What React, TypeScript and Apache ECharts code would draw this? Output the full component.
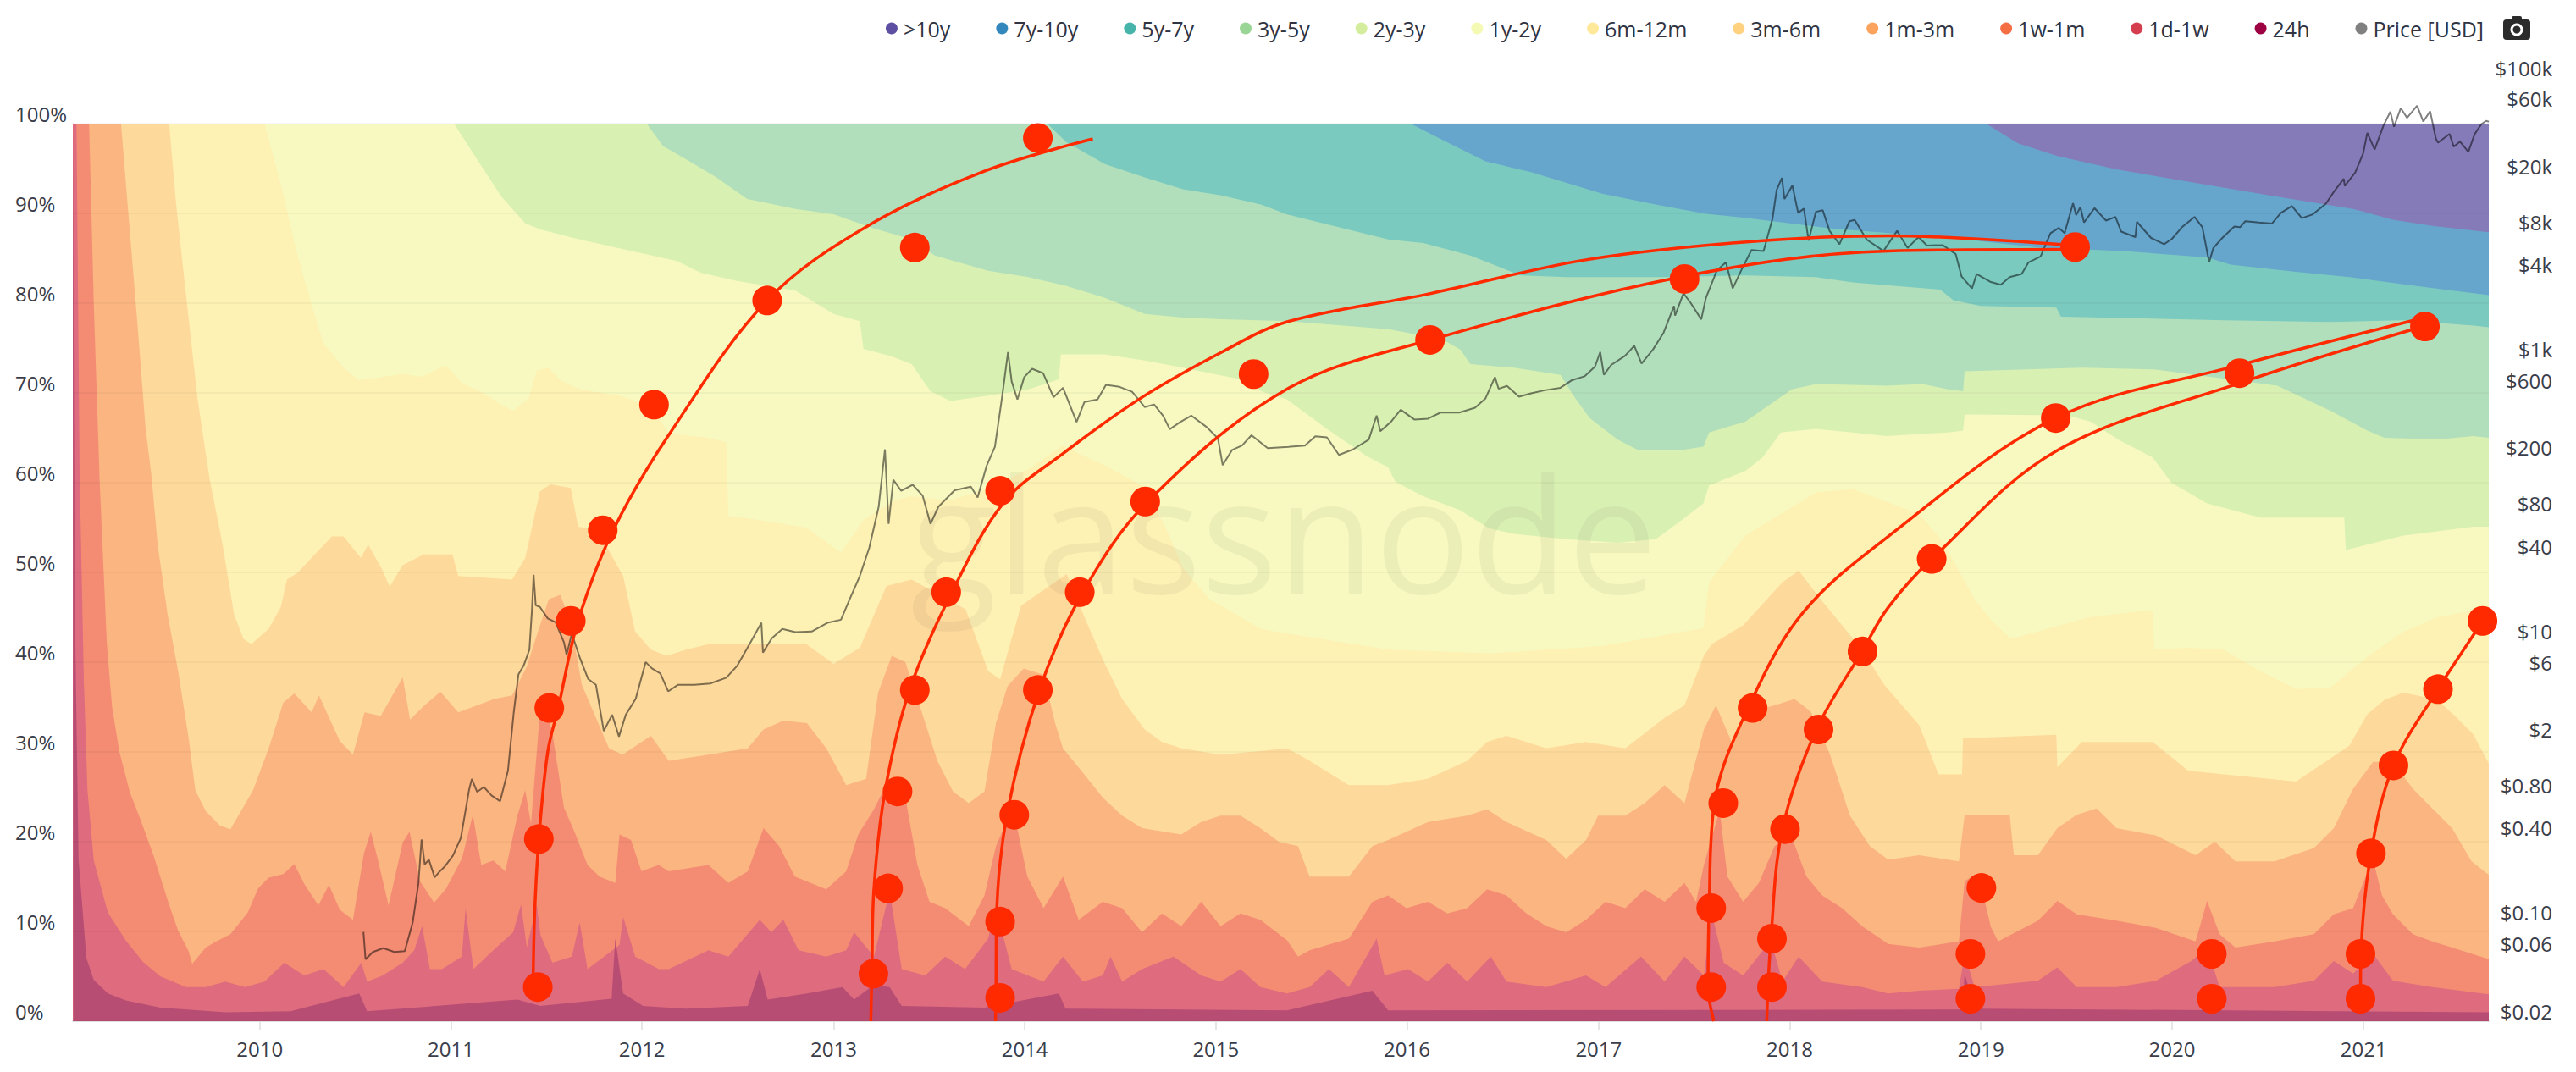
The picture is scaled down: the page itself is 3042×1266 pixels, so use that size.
import { useEffect, useRef } from 'react'
import * as echarts from 'echarts'

type Pt = [string, number]

// 图例 / 波段
const bandNames = ['>10y', '7y-10y', '5y-7y', '3y-5y', '2y-3y', '1y-2y', '6m-12m', '3m-6m', '1m-3m', '1w-1m', '1d-1w', '24h']
const bandColors = ['#5e4fa2', '#3288bd', '#47b4a9', '#99d594', '#d3ed9c', '#f4fab4', '#fee99a', '#fed27e', '#fca35e', '#f46d43', '#d53e4f', '#9e0142']
const bandFills = ['#867bb9', '#66a5cc', '#7acac0', '#b2dfbb', '#d9f0b3', '#f7f9c0', '#fdf1b4', '#fdd99b', '#fbb581', '#f48c73', '#de6b7e', '#b84d74']
const priceName = 'Price [USD]'

// top edge of each band (% of supply younger than the band's upper age)
const edgeAll: Pt[] = [['2009-01-09', 100], ['2021-08-28', 100]]
const edge10y: Pt[] = [['2009-01-09', 100], ['2019-01-11', 100], ['2019-03-13', 97.8], ['2019-05-27', 96.4], ['2019-09-17', 94.9], ['2020-02-15', 93.4], ['2020-07-15', 91.9], ['2020-09-28', 91.2], ['2020-12-12', 90.5], ['2021-02-26', 89.3], ['2021-05-12', 88.6], ['2021-08-28', 87.9]]
const edge7y: Pt[] = [['2009-01-09', 100], ['2016-01-08', 100], ['2016-03-08', 98.2], ['2016-05-30', 95.8], ['2016-08-25', 94.6], ['2017-01-08', 92.2], ['2017-04-20', 91.0], ['2017-07-20', 90.0], ['2017-10-08', 89.5], ['2018-03-25', 88.3], ['2018-10-30', 87.3], ['2019-04-20', 86.2], ['2019-10-01', 85.8], ['2020-03-08', 85.1], ['2020-04-22', 84.3], ['2020-08-25', 83.5], ['2020-12-05', 82.9], ['2021-03-18', 82.1], ['2021-06-05', 81.5], ['2021-08-28', 80.9]]
const edge5y: Pt[] = [['2009-01-09', 100], ['2014-02-13', 100], ['2014-03-22', 97.9], ['2014-06-03', 95.5], ['2014-08-18', 94.0], ['2014-10-30', 92.7], ['2015-01-11', 92.0], ['2015-03-28', 91.0], ['2015-05-16', 89.9], ['2015-11-26', 87.1], ['2016-02-01', 86.7], ['2016-05-01', 85.3], ['2016-08-05', 83.1], ['2016-11-01', 82.9], ['2017-05-25', 82.9], ['2017-10-08', 83.1], ['2018-02-20', 82.9], ['2018-05-01', 82.3], ['2018-10-15', 81.5], ['2018-11-10', 80.3], ['2019-01-01', 79.7], ['2019-05-25', 79.5], ['2019-06-03', 78.5], ['2020-04-10', 78.1], ['2020-10-30', 77.9], ['2021-03-18', 78.1], ['2021-07-30', 77.5], ['2021-08-28', 77.3]]
const edge3y: Pt[] = [['2009-01-09', 100], ['2012-01-10', 100], ['2012-02-10', 97.5], ['2012-03-08', 96.6], ['2012-04-15', 95.3], ['2012-05-22', 94.0], ['2012-07-20', 91.6], ['2012-10-20', 90.5], ['2013-01-01', 89.9], ['2013-03-15', 88.4], ['2013-05-30', 87.1], ['2013-07-13', 85.3], ['2013-10-23', 83.6], ['2014-01-08', 82.9], ['2014-03-22', 81.9], ['2014-06-03', 80.6], ['2014-08-18', 78.8], ['2014-10-30', 78.4], ['2015-01-11', 78.2], ['2015-05-16', 78.0], ['2015-11-26', 77.1], ['2016-03-08', 76.0], ['2016-04-12', 74.8], ['2016-05-01', 73.2], ['2016-07-23', 72.8], ['2016-10-20', 72.0], ['2016-11-15', 69.6], ['2016-12-15', 67.2], ['2017-02-06', 64.8], ['2017-03-18', 63.6], ['2017-06-06', 63.6], ['2017-07-20', 64.0], ['2017-07-31', 65.6], ['2017-10-08', 66.8], ['2018-01-05', 70.4], ['2018-02-20', 71.0], ['2018-07-05', 70.8], ['2018-09-12', 71.0], ['2018-10-30', 70.4], ['2018-11-28', 70.2], ['2018-12-01', 72.4], ['2019-07-13', 72.8], ['2019-12-01', 72.6], ['2020-07-20', 70.8], ['2020-08-25', 69.8], ['2020-10-30', 68.0], ['2021-01-08', 65.8], ['2021-02-10', 65.0], ['2021-05-22', 64.8], ['2021-07-30', 65.2], ['2021-08-28', 65.0]]
const edge2y: Pt[] = [['2009-01-09', 100], ['2011-01-07', 100], ['2011-02-28', 95.3], ['2011-04-07', 91.9], ['2011-05-23', 88.9], ['2011-06-21', 88.2], ['2011-09-04', 87.1], ['2011-11-19', 86.1], ['2012-03-08', 84.7], ['2012-04-22', 83.4], ['2012-06-28', 82.5], ['2012-10-20', 81.4], ['2013-01-01', 78.8], ['2013-02-20', 78.0], ['2013-02-27', 74.9], ['2013-04-20', 74.1], ['2013-05-30', 73.2], ['2013-07-05', 70.2], ['2013-08-12', 69.1], ['2013-10-23', 69.7], ['2014-01-08', 70.4], ['2014-03-07', 71.5], ['2014-03-11', 74.3], ['2014-06-03', 74.3], ['2014-08-18', 73.6], ['2014-10-30', 72.8], ['2015-02-17', 71.5], ['2015-03-28', 70.2], ['2015-05-16', 69.3], ['2015-08-01', 66.0], ['2015-10-15', 63.0], ['2015-11-26', 61.7], ['2015-12-10', 60.1], ['2016-02-01', 58.5], ['2016-04-12', 56.9], ['2016-06-06', 54.9], ['2016-07-23', 54.3], ['2016-11-01', 53.7], ['2017-02-06', 53.3], ['2017-04-20', 53.7], ['2017-06-06', 55.7], ['2017-07-20', 57.7], ['2017-07-31', 59.7], ['2017-10-08', 61.3], ['2017-11-10', 62.8], ['2017-12-15', 65.6], ['2018-02-20', 66.0], ['2018-04-30', 65.6], ['2018-07-05', 65.2], ['2018-10-30', 65.6], ['2018-11-28', 65.8], ['2018-12-01', 67.6], ['2019-06-15', 67.5], ['2019-07-30', 66.8], ['2019-09-20', 64.8], ['2019-11-25', 62.8], ['2019-12-31', 60.0], ['2020-03-08', 57.7], ['2020-06-18', 56.1], ['2020-11-25', 56.1], ['2020-11-28', 52.5], ['2021-03-18', 54.1], ['2021-07-30', 55.1], ['2021-08-28', 55.1]]
const edge1y: Pt[] = [['2009-01-09', 100], ['2010-01-10', 100], ['2010-02-10', 93.3], ['2010-03-12', 85.8], ['2010-04-11', 79.6], ['2010-05-03', 75.5], ['2010-06-10', 72.8], ['2010-07-10', 71.4], ['2010-08-24', 71.8], ['2010-10-01', 72.1], ['2010-11-07', 71.8], ['2010-12-22', 73.1], ['2011-01-22', 71.1], ['2011-02-28', 70.1], ['2011-04-07', 68.7], ['2011-04-30', 68.0], ['2011-05-30', 69.4], ['2011-06-14', 72.5], ['2011-07-07', 72.8], ['2011-07-29', 71.4], ['2011-09-04', 70.4], ['2011-11-19', 69.7], ['2012-01-18', 68.5], ['2012-02-21', 65.5], ['2012-05-07', 65.0], ['2012-06-10', 64.5], ['2012-06-14', 56.3], ['2012-08-04', 55.9], ['2012-11-10', 55.0], ['2013-01-15', 52.2], ['2013-02-28', 55.9], ['2013-04-27', 58.0], ['2013-05-30', 58.5], ['2013-08-10', 58.0], ['2013-11-01', 59.5], ['2014-01-08', 61.5], ['2014-03-14', 64.1], ['2014-06-03', 61.9], ['2014-08-18', 59.5], ['2014-10-01', 54.5], ['2014-10-30', 50.5], ['2014-12-20', 47.0], ['2015-01-11', 46.3], ['2015-03-28', 43.7], ['2015-05-16', 43.2], ['2015-11-26', 41.4], ['2016-06-15', 41.0], ['2017-01-08', 41.8], ['2017-07-20', 43.8], ['2017-07-31', 48.9], ['2017-10-08', 54.1], ['2018-02-20', 58.9], ['2018-05-01', 59.3], ['2018-09-05', 56.5], ['2018-10-20', 53.5], ['2018-12-20', 47.0], ['2019-01-22', 44.6], ['2019-02-28', 42.6], ['2019-07-26', 45.0], ['2019-11-25', 45.8], ['2019-11-28', 41.4], ['2020-02-01', 41.6], ['2020-04-08', 41.4], ['2020-06-18', 39.0], ['2020-08-25', 37.0], ['2020-10-30', 37.2], ['2021-01-08', 40.6], ['2021-03-18', 43.4], ['2021-05-22', 45.0], ['2021-08-28', 46.1]]
const edge6m: Pt[] = [['2009-01-09', 100], ['2009-07-12', 100], ['2009-07-25', 91.2], ['2009-08-13', 81.0], ['2009-09-04', 69.4], ['2009-09-27', 60.5], ['2009-10-22', 53.1], ['2009-11-13', 45.3], ['2009-12-01', 42.6], ['2009-12-16', 42.0], ['2010-01-18', 43.7], ['2010-02-10', 46.1], ['2010-02-22', 49.2], ['2010-03-15', 50.0], ['2010-04-16', 52.0], ['2010-05-19', 54.0], ['2010-06-10', 54.0], ['2010-07-13', 51.6], ['2010-07-27', 53.1], ['2010-08-22', 50.4], ['2010-09-06', 48.4], ['2010-10-01', 50.8], ['2010-11-10', 52.0], ['2011-01-04', 52.0], ['2011-01-15', 49.6], ['2011-04-28', 49.2], ['2011-05-23', 51.6], ['2011-06-20', 59.0], ['2011-07-10', 59.8], ['2011-08-18', 59.4], ['2011-09-01', 55.1], ['2011-10-12', 54.7], ['2011-10-23', 53.1], ['2011-11-26', 49.6], ['2011-12-19', 43.4], ['2012-01-18', 41.4], ['2012-02-17', 40.7], ['2012-03-25', 41.4], ['2012-05-07', 42.0], ['2012-07-21', 42.0], ['2012-11-10', 42.0], ['2013-01-01', 39.8], ['2013-02-20', 41.6], ['2013-04-12', 48.5], ['2013-05-30', 49.2], ['2013-09-10', 45.9], ['2013-10-23', 39.0], ['2013-11-15', 38.1], ['2013-12-25', 46.3], ['2014-03-22', 49.8], ['2014-04-28', 44.6], ['2014-06-03', 39.8], ['2014-07-06', 35.9], ['2014-08-18', 32.5], ['2014-09-20', 31.1], ['2014-10-27', 30.4], ['2015-01-10', 29.7], ['2015-03-27', 30.1], ['2015-05-17', 30.4], ['2015-06-29', 29.0], ['2015-09-12', 26.3], ['2015-11-26', 26.3], ['2016-02-10', 27.0], ['2016-04-25', 29.0], ['2016-06-02', 31.1], ['2016-07-09', 31.8], ['2016-09-23', 30.4], ['2016-12-08', 31.1], ['2017-02-21', 30.4], ['2017-05-07', 33.8], ['2017-06-14', 35.2], ['2017-07-21', 40.7], ['2017-08-05', 42.0], ['2017-10-04', 44.1], ['2017-12-18', 48.9], ['2018-01-18', 50.2], ['2018-03-04', 46.8], ['2018-05-19', 41.4], ['2018-06-30', 37.5], ['2018-09-05', 33.0], ['2018-10-12', 27.5], ['2018-11-26', 27.5], ['2018-11-28', 31.5], ['2019-05-25', 31.9], ['2019-05-27', 28.3], ['2019-07-13', 31.1], ['2019-11-25', 31.1], ['2020-02-01', 27.9], ['2020-08-25', 26.7], ['2020-12-05', 30.7], ['2021-01-08', 34.2], ['2021-02-10', 35.8], ['2021-03-18', 36.6], ['2021-05-22', 35.8], ['2021-06-28', 33.8], ['2021-07-30', 31.9], ['2021-08-28', 28.7]]
const edge3m: Pt[] = [['2009-01-09', 100], ['2009-04-11', 100], ['2009-04-25', 90.0], ['2009-05-12', 78.0], ['2009-05-28', 66.0], ['2009-06-08', 60.9], ['2009-06-20', 53.1], ['2009-07-09', 45.3], ['2009-07-29', 39.0], ['2009-08-18', 31.6], ['2009-08-31', 25.7], ['2009-09-20', 23.4], ['2009-10-17', 21.8], ['2009-11-06', 21.4], ['2009-12-19', 25.7], ['2010-01-18', 30.4], ['2010-02-15', 35.5], ['2010-03-08', 36.5], ['2010-04-10', 34.4], ['2010-04-24', 36.3], ['2010-06-03', 31.2], ['2010-06-28', 29.7], ['2010-07-20', 34.4], ['2010-08-20', 34.0], ['2010-10-01', 38.3], ['2010-10-15', 33.6], ['2010-11-10', 35.1], ['2010-12-12', 36.7], ['2011-01-15', 34.4], ['2011-03-25', 35.9], ['2011-04-28', 36.3], ['2011-05-26', 39.5], ['2011-06-14', 43.0], ['2011-07-07', 47.0], ['2011-07-29', 47.5], ['2011-08-18', 44.5], ['2011-09-08', 37.5], ['2011-10-30', 30.4], ['2011-11-25', 29.7], ['2012-01-18', 31.8], ['2012-02-21', 29.0], ['2012-05-07', 29.7], ['2012-07-21', 30.4], ['2012-08-20', 32.5], ['2012-09-27', 33.5], ['2012-11-11', 33.2], ['2012-12-18', 30.4], ['2013-01-25', 26.3], ['2013-03-04', 27.0], ['2013-03-27', 36.6], ['2013-04-22', 40.7], ['2013-05-18', 40.0], ['2013-06-18', 34.5], ['2013-07-18', 29.0], ['2013-08-17', 25.6], ['2013-09-16', 24.3], ['2013-10-16', 25.6], ['2013-11-07', 33.2], ['2013-11-29', 37.3], ['2013-12-30', 39.3], ['2014-02-06', 38.6], ['2014-02-28', 33.2], ['2014-03-15', 30.4], ['2014-04-22', 27.7], ['2014-05-30', 24.9], ['2014-07-06', 22.9], ['2014-08-13', 21.5], ['2014-10-27', 20.8], ['2014-12-04', 22.2], ['2015-01-10', 22.9], ['2015-02-17', 22.9], ['2015-03-27', 21.5], ['2015-05-01', 20.0], ['2015-06-07', 19.5], ['2015-06-29', 16.1], ['2015-09-12', 16.1], ['2015-10-27', 19.5], ['2015-11-26', 20.2], ['2016-02-10', 22.2], ['2016-04-25', 22.9], ['2016-06-02', 23.6], ['2016-07-09', 22.2], ['2016-09-23', 20.2], ['2016-10-31', 18.1], ['2016-12-08', 20.2], ['2016-12-31', 22.9], ['2017-02-21', 22.9], ['2017-03-30', 24.3], ['2017-05-07', 26.3], ['2017-06-14', 24.3], ['2017-07-21', 32.5], ['2017-08-13', 35.2], ['2017-09-12', 31.1], ['2017-10-19', 34.5], ['2017-12-03', 35.2], ['2018-01-10', 35.9], ['2018-02-10', 34.5], ['2018-03-19', 29.7], ['2018-04-26', 22.9], ['2018-06-03', 19.5], ['2018-07-08', 18.0], ['2018-09-05', 18.5], ['2018-11-20', 17.8], ['2018-12-01', 23.0], ['2019-02-25', 23.0], ['2019-03-05', 18.5], ['2019-04-20', 18.5], ['2019-05-27', 21.5], ['2019-07-03', 23.0], ['2019-08-10', 23.7], ['2019-09-17', 21.5], ['2019-12-01', 20.7], ['2020-02-15', 18.5], ['2020-03-23', 20.0], ['2020-05-01', 17.8], ['2020-07-15', 17.8], ['2020-09-28', 19.3], ['2020-11-05', 21.5], ['2020-12-12', 25.9], ['2021-01-19', 28.9], ['2021-02-26', 28.9], ['2021-04-05', 25.9], ['2021-05-12', 23.7], ['2021-06-19', 21.5], ['2021-07-26', 17.8], ['2021-08-28', 16.3]]
const edge1m: Pt[] = [['2009-01-09', 100], ['2009-02-09', 100], ['2009-02-18', 80.0], ['2009-03-01', 60.5], ['2009-03-15', 42.0], ['2009-03-25', 35.0], ['2009-04-08', 30.0], ['2009-04-28', 25.5], ['2009-05-18', 22.5], ['2009-06-12', 18.5], ['2009-07-09', 13.5], ['2009-07-29', 10.1], ['2009-08-18', 7.8], ['2009-08-25', 6.4], ['2009-09-20', 8.2], ['2009-10-10', 8.9], ['2009-11-06', 9.7], ['2009-12-09', 12.1], ['2009-12-29', 14.8], ['2010-01-18', 16.0], ['2010-02-15', 16.4], ['2010-03-08', 17.5], ['2010-03-28', 15.2], ['2010-04-23', 12.9], ['2010-05-13', 15.2], ['2010-06-03', 12.4], ['2010-06-28', 11.3], ['2010-07-19', 18.7], ['2010-08-01', 21.1], ['2010-08-15', 17.9], ['2010-09-04', 12.9], ['2010-10-01', 19.9], ['2010-10-14', 21.1], ['2010-11-03', 15.6], ['2010-11-30', 13.2], ['2010-12-22', 14.7], ['2011-01-22', 18.1], ['2011-02-12', 23.0], ['2011-02-28', 17.4], ['2011-03-23', 17.9], ['2011-04-15', 16.7], ['2011-05-08', 22.9], ['2011-05-23', 25.7], ['2011-06-03', 22.0], ['2011-06-19', 33.6], ['2011-06-28', 35.9], ['2011-07-14', 32.0], ['2011-08-05', 23.8], ['2011-08-25', 21.1], ['2011-09-19', 17.4], ['2011-10-12', 16.1], ['2011-11-11', 15.4], ['2011-11-19', 20.8], ['2011-12-11', 20.2], ['2011-12-31', 16.7], ['2012-02-02', 17.4], ['2012-02-21', 16.7], ['2012-05-07', 17.4], ['2012-06-14', 15.4], ['2012-07-21', 16.7], ['2012-08-20', 21.5], ['2012-09-19', 19.5], ['2012-10-19', 16.1], ['2012-11-18', 15.4], ['2012-12-18', 14.7], ['2013-01-25', 16.7], ['2013-02-17', 20.8], ['2013-03-19', 23.6], ['2013-04-11', 26.3], ['2013-04-30', 27.0], ['2013-05-18', 24.9], ['2013-06-10', 17.4], ['2013-07-03', 13.3], ['2013-08-02', 12.6], ['2013-09-16', 10.6], ['2013-10-16', 14.0], ['2013-11-07', 19.5], ['2013-11-22', 21.5], ['2013-12-14', 22.5], ['2014-01-06', 16.1], ['2014-02-06', 12.6], ['2014-03-15', 16.1], ['2014-04-14', 11.3], ['2014-05-30', 13.3], ['2014-07-06', 12.6], ['2014-08-13', 9.9], ['2014-09-20', 12.0], ['2014-10-27', 10.6], ['2014-12-04', 13.3], ['2015-01-10', 10.6], ['2015-02-17', 12.0], ['2015-03-27', 11.3], ['2015-05-17', 9.0], ['2015-06-07', 7.2], ['2015-06-29', 7.9], ['2015-09-12', 9.2], ['2015-10-27', 13.3], ['2015-11-26', 14.0], ['2015-12-31', 12.6], ['2016-02-10', 13.3], ['2016-03-18', 12.0], ['2016-04-25', 12.6], ['2016-06-02', 14.7], ['2016-07-09', 14.0], ['2016-08-16', 12.0], ['2016-09-23', 10.6], ['2016-10-31', 9.9], ['2016-12-08', 11.3], ['2017-01-14', 13.3], ['2017-02-21', 12.6], ['2017-03-30', 14.7], ['2017-05-07', 13.3], ['2017-06-14', 15.4], ['2017-07-06', 13.3], ['2017-07-21', 17.4], ['2017-08-20', 23.5], ['2017-09-04', 16.1], ['2017-10-04', 13.3], ['2017-11-03', 15.4], ['2017-12-03', 19.5], ['2018-01-03', 20.8], ['2018-02-02', 16.1], ['2018-03-04', 14.0], ['2018-04-11', 12.6], ['2018-05-19', 10.6], ['2018-07-08', 8.6], ['2018-09-05', 8.2], ['2018-11-20', 8.9], ['2018-12-01', 15.6], ['2018-12-20', 16.3], ['2019-01-04', 14.5], ['2019-01-20', 10.5], ['2019-02-03', 8.9], ['2019-04-20', 11.2], ['2019-05-27', 13.4], ['2019-07-03', 11.9], ['2019-09-17', 11.2], ['2019-12-01', 10.4], ['2020-02-15', 8.9], ['2020-03-08', 13.4], ['2020-04-01', 9.7], ['2020-05-01', 8.2], ['2020-07-15', 8.9], ['2020-09-28', 9.7], ['2020-11-05', 11.9], ['2020-12-12', 12.6], ['2021-01-11', 17.0], ['2021-01-19', 18.0], ['2021-02-05', 14.0], ['2021-02-26', 11.9], ['2021-04-05', 9.7], ['2021-05-12', 8.9], ['2021-06-19', 8.2], ['2021-08-28', 6.9]]
const edge1w: Pt[] = [['2009-01-09', 100], ['2009-01-16', 100], ['2009-01-22', 60.9], ['2009-01-30', 38.0], ['2009-02-06', 25.7], ['2009-02-18', 17.9], ['2009-03-17', 12.1], ['2009-04-20', 9.0], ['2009-05-23', 6.6], ['2009-06-25', 5.0], ['2009-08-13', 3.8], ['2009-09-20', 3.8], ['2009-10-27', 4.4], ['2009-12-04', 3.8], ['2010-01-10', 4.4], ['2010-02-17', 6.5], ['2010-03-27', 5.1], ['2010-05-03', 5.8], ['2010-06-10', 3.8], ['2010-07-14', 6.5], ['2010-07-25', 4.4], ['2010-08-24', 5.1], ['2010-10-01', 6.5], ['2010-10-23', 7.9], ['2010-11-07', 10.6], ['2010-11-22', 5.8], ['2010-12-15', 5.8], ['2011-01-22', 7.2], ['2011-01-29', 12.6], ['2011-02-13', 5.8], ['2011-03-23', 7.9], ['2011-04-30', 9.9], ['2011-05-15', 13.0], ['2011-05-26', 8.2], ['2011-06-14', 13.0], ['2011-06-21', 9.6], ['2011-07-14', 6.5], ['2011-08-20', 7.2], ['2011-09-04', 11.0], ['2011-09-19', 5.8], ['2011-11-19', 8.5], ['2011-11-26', 11.6], ['2011-12-19', 7.2], ['2012-02-02', 5.8], ['2012-02-21', 5.8], ['2012-05-07', 7.9], ['2012-06-14', 7.2], ['2012-08-13', 11.3], ['2012-09-04', 9.9], ['2012-09-27', 11.3], ['2012-10-26', 7.9], ['2012-12-18', 7.2], ['2013-01-25', 7.9], ['2013-02-09', 9.9], ['2013-03-19', 7.2], ['2013-04-18', 14.5], ['2013-05-11', 5.8], ['2013-06-25', 5.1], ['2013-08-02', 7.2], ['2013-09-09', 5.8], ['2013-10-23', 9.2], ['2013-11-07', 12.6], ['2013-12-07', 5.8], ['2014-02-06', 4.4], ['2014-03-15', 7.2], ['2014-04-22', 4.4], ['2014-05-30', 5.1], ['2014-06-14', 7.2], ['2014-07-06', 4.4], ['2014-08-13', 5.8], ['2014-10-12', 7.2], ['2014-12-04', 5.1], ['2015-01-10', 4.4], ['2015-02-17', 5.8], ['2015-03-27', 3.8], ['2015-05-17', 3.1], ['2015-06-29', 3.8], ['2015-08-05', 5.8], ['2015-09-12', 3.8], ['2015-11-04', 9.2], ['2015-11-19', 5.1], ['2016-01-03', 5.8], ['2016-02-10', 4.4], ['2016-03-18', 6.5], ['2016-04-25', 4.4], ['2016-06-09', 7.2], ['2016-07-09', 4.4], ['2016-09-23', 3.8], ['2016-12-08', 5.1], ['2017-01-14', 3.8], ['2017-03-23', 7.2], ['2017-05-07', 4.4], ['2017-06-14', 7.2], ['2017-07-21', 5.1], ['2017-08-05', 12.0], ['2017-08-28', 6.5], ['2017-10-04', 5.1], ['2017-11-26', 9.0], ['2017-12-18', 4.4], ['2018-01-18', 7.2], ['2018-03-04', 4.4], ['2018-05-19', 3.8], ['2018-07-08', 3.1], ['2018-09-05', 3.4], ['2018-11-20', 3.6], ['2018-12-01', 7.5], ['2018-12-20', 3.8], ['2019-04-20', 4.5], ['2019-05-27', 6.0], ['2019-07-03', 3.8], ['2019-09-17', 3.8], ['2019-12-01', 4.5], ['2020-02-07', 6.7], ['2020-03-08', 8.2], ['2020-04-01', 3.8], ['2020-07-15', 3.8], ['2020-09-28', 4.5], ['2020-11-05', 6.7], ['2020-12-12', 5.3], ['2021-01-19', 7.5], ['2021-02-26', 4.5], ['2021-05-12', 3.8], ['2021-08-28', 3.0]]
const edge24h: Pt[] = [['2009-01-09', 100], ['2009-01-10', 100], ['2009-01-13', 45.0], ['2009-01-20', 18.0], ['2009-02-04', 7.0], ['2009-02-18', 4.6], ['2009-03-17', 3.1], ['2009-04-20', 2.3], ['2009-06-25', 1.5], ['2009-10-27', 1.0], ['2010-03-01', 1.1], ['2010-07-10', 3.1], ['2010-07-25', 1.1], ['2011-05-08', 2.4], ['2011-06-21', 1.7], ['2011-11-04', 2.5], ['2011-11-11', 9.2], ['2011-11-26', 3.1], ['2012-01-03', 1.7], ['2012-03-25', 1.4], ['2012-07-21', 1.7], ['2012-08-13', 5.8], ['2012-08-28', 2.4], ['2012-11-11', 3.1], ['2013-01-18', 3.8], ['2013-02-09', 2.4], ['2013-03-18', 4.0], ['2013-04-18', 3.8], ['2013-05-11', 1.7], ['2013-10-16', 1.5], ['2014-03-07', 3.1], ['2014-03-20', 1.4], ['2015-05-17', 1.2], ['2015-10-27', 3.4], ['2015-11-26', 1.2], ['2018-11-27', 1.3], ['2018-12-01', 5.3], ['2018-12-20', 1.4], ['2021-08-28', 1.0]]
const bandEdges = [edgeAll, edge10y, edge7y, edge5y, edge3y, edge2y, edge1y, edge6m, edge3m, edge1m, edge1w, edge24h]

// BTC price, USD
const price: Pt[] = [['2010-07-18', 0.086], ['2010-07-22', 0.055], ['2010-08-05', 0.062], ['2010-08-25', 0.066], ['2010-09-15', 0.062], ['2010-10-05', 0.063], ['2010-10-20', 0.10], ['2010-10-31', 0.19], ['2010-11-06', 0.39], ['2010-11-12', 0.26], ['2010-11-20', 0.28], ['2010-12-01', 0.21], ['2010-12-10', 0.23], ['2010-12-20', 0.25], ['2011-01-05', 0.30], ['2011-01-20', 0.40], ['2011-02-05', 0.89], ['2011-02-10', 1.05], ['2011-02-20', 0.85], ['2011-03-05', 0.92], ['2011-03-20', 0.80], ['2011-04-05', 0.73], ['2011-04-20', 1.2], ['2011-05-01', 3.1], ['2011-05-10', 5.8], ['2011-05-20', 6.7], ['2011-05-31', 8.7], ['2011-06-05', 17], ['2011-06-08', 29.6], ['2011-06-12', 18], ['2011-06-20', 17.5], ['2011-07-05', 14.5], ['2011-07-20', 13.6], ['2011-08-05', 9.8], ['2011-08-10', 8.0], ['2011-08-20', 11.3], ['2011-09-05', 7.5], ['2011-09-20', 5.4], ['2011-10-05', 4.9], ['2011-10-20', 2.3], ['2011-11-05', 3.0], ['2011-11-18', 2.1], ['2011-12-01', 3.0], ['2011-12-20', 3.9], ['2012-01-08', 7.1], ['2012-01-20', 6.4], ['2012-02-05', 5.9], ['2012-02-20', 4.4], ['2012-03-10', 4.9], ['2012-04-10', 4.9], ['2012-05-10', 5.0], ['2012-06-10', 5.5], ['2012-07-01', 6.7], ['2012-07-20', 8.9], ['2012-08-16', 13.5], ['2012-08-19', 8.3], ['2012-09-05', 10.5], ['2012-09-25', 12.2], ['2012-10-20', 11.6], ['2012-11-20', 11.7], ['2012-12-20', 13.5], ['2013-01-15', 14.2], ['2013-02-01', 20], ['2013-02-20', 29], ['2013-03-10', 46], ['2013-03-28', 90], ['2013-04-09', 230], ['2013-04-16', 68], ['2013-04-25', 140], ['2013-05-10', 117], ['2013-06-01', 129], ['2013-06-20', 108], ['2013-07-05', 68], ['2013-07-20', 90], ['2013-08-20', 118], ['2013-09-20', 125], ['2013-10-03', 105], ['2013-10-20', 175], ['2013-11-05', 240], ['2013-11-18', 520], ['2013-11-30', 1130], ['2013-12-07', 700], ['2013-12-18', 520], ['2013-12-31', 750], ['2014-01-15', 860], ['2014-02-05', 800], ['2014-02-25', 540], ['2014-03-15', 630], ['2014-04-10', 360], ['2014-04-25', 500], ['2014-05-20', 520], ['2014-06-05', 660], ['2014-07-01', 640], ['2014-07-25', 590], ['2014-08-18', 460], ['2014-09-05', 480], ['2014-09-22', 400], ['2014-10-05', 320], ['2014-10-25', 360], ['2014-11-15', 400], ['2014-12-15', 330], ['2015-01-05', 275], ['2015-01-14', 178], ['2015-02-01', 228], ['2015-02-20', 245], ['2015-03-10', 290], ['2015-04-10', 235], ['2015-05-20', 240], ['2015-06-20', 245], ['2015-07-10', 285], ['2015-08-01', 280], ['2015-08-24', 210], ['2015-09-20', 230], ['2015-10-20', 270], ['2015-11-04', 400], ['2015-11-11', 310], ['2015-12-01', 360], ['2015-12-20', 440], ['2016-01-15', 375], ['2016-02-10', 380], ['2016-03-05', 420], ['2016-04-10', 420], ['2016-05-10', 455], ['2016-05-30', 530], ['2016-06-17', 750], ['2016-06-24', 620], ['2016-07-10', 650], ['2016-08-02', 545], ['2016-08-25', 575], ['2016-09-20', 605], ['2016-10-20', 630], ['2016-11-10', 710], ['2016-12-05', 760], ['2016-12-25', 890], ['2017-01-04', 1130], ['2017-01-11', 780], ['2017-01-25', 915], ['2017-02-20', 1060], ['2017-03-10', 1250], ['2017-03-24', 935], ['2017-04-15', 1180], ['2017-05-05', 1550], ['2017-05-25', 2400], ['2017-05-27', 2050], ['2017-06-12', 2950], ['2017-06-25', 2550], ['2017-07-16', 1930], ['2017-07-25', 2750], ['2017-08-15', 4300], ['2017-09-01', 4900], ['2017-09-14', 3200], ['2017-10-01', 4350], ['2017-10-20', 6000], ['2017-11-12', 5900], ['2017-11-29', 10000], ['2017-12-07', 16000], ['2017-12-17', 19500], ['2017-12-22', 13800], ['2018-01-06', 17200], ['2018-01-17', 11000], ['2018-01-28', 11800], ['2018-02-06', 7000], ['2018-02-20', 11200], ['2018-03-05', 11500], ['2018-03-18', 8200], ['2018-04-06', 6600], ['2018-04-25', 9600], ['2018-05-05', 9800], ['2018-05-28', 7100], ['2018-06-29', 5900], ['2018-07-25', 8200], ['2018-08-14', 6200], ['2018-09-04', 7400], ['2018-09-20', 6450], ['2018-10-20', 6500], ['2018-11-14', 5600], ['2018-11-25', 3900], ['2018-12-15', 3200], ['2018-12-24', 4050], ['2019-01-20', 3550], ['2019-02-08', 3400], ['2019-02-25', 3850], ['2019-03-20', 4050], ['2019-04-02', 4900], ['2019-04-25', 5400], ['2019-05-14', 7900], ['2019-05-30', 8600], ['2019-06-10', 7900], ['2019-06-26', 12900], ['2019-07-02', 10600], ['2019-07-10', 12100], ['2019-07-17', 9400], ['2019-08-06', 11900], ['2019-08-28', 9700], ['2019-09-15', 10300], ['2019-09-26', 8100], ['2019-10-23', 7400], ['2019-10-26', 9500], ['2019-11-22', 7300], ['2019-12-17', 6600], ['2020-01-01', 7200], ['2020-01-20', 8700], ['2020-02-13', 10300], ['2020-02-28', 8700], ['2020-03-12', 4900], ['2020-03-20', 6200], ['2020-04-06', 7300], ['2020-04-29', 8800], ['2020-05-10', 8700], ['2020-05-20', 9600], ['2020-06-15', 9400], ['2020-07-10', 9250], ['2020-07-27', 11000], ['2020-08-17', 12300], ['2020-09-05', 10100], ['2020-09-25', 10700], ['2020-10-21', 12800], ['2020-11-05', 15500], ['2020-11-24', 19200], ['2020-11-26', 17100], ['2020-12-16', 21300], ['2020-12-31', 29000], ['2021-01-08', 40700], ['2021-01-22', 31000], ['2021-02-08', 46000], ['2021-02-21', 57500], ['2021-02-28', 45000], ['2021-03-13', 61000], ['2021-03-25', 52000], ['2021-04-13', 63500], ['2021-04-25', 49000], ['2021-05-08', 58000], ['2021-05-19', 37000], ['2021-05-23', 34700], ['2021-06-14', 40000], ['2021-06-22', 32500], ['2021-07-04', 35300], ['2021-07-20', 29800], ['2021-08-01', 39900], ['2021-08-14', 47000], ['2021-08-23', 49500], ['2021-08-28', 48900]]

// red annotation arcs + dots (percent scale)
const arc1: Pt[] = [['2011-06-07', 4.0], ['2011-06-10', 12.0], ['2011-06-18', 20.3], ['2011-07-05', 30.0], ['2011-07-25', 34.9], ['2011-09-01', 44.6], ['2011-11-07', 54.7], ['2012-02-21', 65.3], ['2012-08-27', 80.3], ['2013-03-04', 88.5], ['2013-10-16', 94.7], ['2014-05-11', 98.3]]
const arc2: Pt[] = [['2013-03-13', 0], ['2013-03-15', 5.3], ['2013-03-19', 14.8], ['2013-04-09', 25.6], ['2013-05-26', 36.9], ['2013-08-15', 47.8], ['2013-11-22', 57.8], ['2014-03-14', 63.2], ['2014-08-10', 69.4], ['2015-01-11', 74.5], ['2015-05-16', 77.9], ['2016-02-09', 81.0], ['2016-12-05', 84.8], ['2017-10-05', 86.8], ['2018-07-08', 87.5], ['2019-06-10', 86.5]]
const arc3: Pt[] = [['2013-11-06', 0], ['2013-11-07', 2.6], ['2013-11-08', 11.1], ['2013-11-28', 23.0], ['2014-01-29', 36.9], ['2014-04-22', 47.8], ['2014-08-24', 57.9], ['2015-05-16', 70.4], ['2016-02-14', 75.9], ['2017-06-14', 83.0], ['2018-07-08', 85.8], ['2019-06-19', 86.0]]
const arc4: Pt[] = [['2017-08-09', 0], ['2017-07-29', 3.8], ['2017-07-31', 12.6], ['2017-08-10', 24.3], ['2017-10-16', 35.2], ['2018-01-26', 45.5], ['2018-07-08', 54.0], ['2019-05-24', 67.2], ['2020-05-09', 73.1], ['2021-04-28', 78.4]]
const arc5: Pt[] = [['2017-11-18', 0], ['2017-11-26', 9.2], ['2017-12-18', 21.4], ['2018-02-21', 32.5], ['2018-05-19', 41.2], ['2018-07-08', 46.1], ['2018-09-29', 51.5], ['2019-05-24', 63.5], ['2020-05-09', 71.1], ['2021-04-01', 77.0]]
const arc6: Pt[] = [['2020-12-26', 2.5], ['2020-12-27', 7.5], ['2021-01-15', 18.7], ['2021-02-27', 28.5], ['2021-05-23', 37.0], ['2021-08-16', 44.6], ['2021-08-28', 46.0]]
const arcs = [arc1, arc2, arc3, arc4, arc5, arc6]
const dots: Pt[] = [['2011-06-16', 3.8], ['2011-06-18', 20.3], ['2011-07-08', 34.9], ['2011-08-18', 44.6], ['2011-10-18', 54.7], ['2012-01-24', 68.7], ['2014-01-26', 98.4], ['2012-08-27', 80.3], ['2013-06-05', 86.2], ['2013-11-15', 59.1], ['2013-08-04', 47.8], ['2013-06-05', 36.9], ['2013-05-03', 25.6], ['2013-04-15', 14.8], ['2013-03-18', 5.3], ['2014-08-19', 57.9], ['2014-04-16', 47.8], ['2014-01-26', 36.9], ['2013-12-12', 23.0], ['2013-11-15', 11.1], ['2013-11-15', 2.6], ['2015-03-14', 72.1], ['2016-02-14', 75.9], ['2017-06-14', 82.7], ['2017-10-22', 34.9], ['2017-08-27', 24.3], ['2017-08-04', 12.6], ['2017-08-04', 3.8], ['2018-05-20', 41.2], ['2018-02-25', 32.5], ['2017-12-23', 21.4], ['2017-11-28', 9.2], ['2017-11-28', 3.8], ['2019-06-30', 86.25], ['2021-04-28', 77.4], ['2020-05-09', 72.2], ['2019-05-24', 67.2], ['2018-09-29', 51.5], ['2019-01-02', 14.85], ['2018-12-12', 7.5], ['2018-12-12', 2.5], ['2020-03-17', 7.5], ['2020-03-17', 2.5], ['2020-12-26', 7.5], ['2020-12-26', 2.5], ['2021-01-15', 18.7], ['2021-02-27', 28.5], ['2021-05-23', 37.0], ['2021-08-16', 44.6]]

// price axis tick labels
const priceTicks = [100000, 60000, 20000, 8000, 4000, 1000, 600, 200, 80, 40, 10, 6, 2, 0.8, 0.4, 0.1, 0.06, 0.02]

const fmtPrice = (v: number) => {
  if (v >= 1000) return '$' + Math.round(v / 1000) + 'k'
  if (v >= 1) return '$' + Math.round(v)
  return '$' + v.toFixed(2)
}

const labelColor = '#3a3e4b'
const red = '#ff2a00'
const font = "'Open Sans', sans-serif"
const DAY = 24 * 3600 * 1000

export default function App() {
  const cDom = useRef<HTMLDivElement>(null)

  useEffect(() => {
    document.body.style.margin = '0'
    document.body.style.overflow = 'hidden'
    if (!cDom.current) return
    const chart = echarts.init(cDom.current, null, { renderer: 'svg' })

    const gridPos = { left: 86, right: 103 }
    const bandSeries = bandNames.map((name, i) => ({
      name,
      type: 'line',
      xAxisIndex: 0,
      yAxisIndex: 0,
      data: bandEdges[i],
      symbol: 'none',
      silent: true,
      z: 2,
      lineStyle: { width: 0 },
      itemStyle: { color: bandColors[i] },
      areaStyle: { color: bandFills[i], opacity: 1 },
    }))

    const arcSeries = arcs.map((d, i) => ({
      name: 'arc' + (i + 1),
      type: 'line',
      xAxisIndex: 0,
      yAxisIndex: 0,
      data: d,
      smooth: 0.35,
      symbol: 'none',
      silent: true,
      z: 5,
      lineStyle: { color: red, width: 3.5 },
    }))

    const options: any = {
      animation: false,
      backgroundColor: '#fff',
      textStyle: { fontFamily: font },
      legend: {
        data: [
          ...bandNames.map((n, i) => ({ name: n, itemStyle: { color: bandColors[i] } })),
          { name: priceName, itemStyle: { color: '#808080' } },
        ],
        icon: 'circle',
        right: 109,
        top: 21,
        padding: 0,
        itemWidth: 18,
        itemHeight: 14,
        itemGap: 54,
        selectedMode: false,
        textStyle: { fontSize: 25, color: '#2f3342', fontFamily: font },
      },
      grid: [
        { ...gridPos, top: 146, bottom: 60 },
        { ...gridPos, top: 92, bottom: 60 },
      ],
      xAxis: [
        {
          type: 'time',
          gridIndex: 0,
          min: '2009-01-09',
          max: '2021-08-28',
          splitNumber: 12,
          minInterval: 365 * DAY,
          maxInterval: 366 * DAY,
          axisLine: { show: true, lineStyle: { color: '#e6e6e6', width: 2 } },
          axisTick: { show: true, length: 10, lineStyle: { color: '#e6e6e6', width: 2 } },
          axisLabel: {
            fontSize: 24,
            color: labelColor,
            margin: 20,
            formatter: (v: number) => String(new Date(v).getFullYear()),
          },
          splitLine: { show: false },
        },
        {
          type: 'time',
          gridIndex: 1,
          min: '2009-01-09',
          max: '2021-08-28',
          show: false,
        },
      ],
      yAxis: [
        {
          type: 'value',
          gridIndex: 0,
          min: 0,
          max: 100,
          interval: 10,
          position: 'left',
          z: 3,
          axisLine: { show: false },
          axisTick: { show: false },
          axisLabel: {
            formatter: '{value}%',
            align: 'left',
            verticalAlign: 'bottom',
            margin: 68,
            fontSize: 24,
            color: labelColor,
          },
          splitLine: { lineStyle: { color: 'rgba(0,0,0,0.045)', width: 1.5 } },
        },
        {
          type: 'log',
          logBase: 10,
          gridIndex: 1,
          min: 0.02,
          max: 100000,
          position: 'right',
          axisLine: { show: false },
          axisTick: { show: false },
          splitLine: { show: false },
          axisLabel: {
            customValues: priceTicks,
            formatter: fmtPrice,
            align: 'right',
            verticalAlign: 'bottom',
            margin: 75,
            fontSize: 24,
            color: labelColor,
          },
        },
      ],
      graphic: [
        {
          type: 'text',
          x: 1516,
          y: 628,
          z: 3,
          silent: true,
          style: {
            text: 'glassnode',
            fontSize: 188,
            fontFamily: font,
            fill: 'rgba(0,0,0,0.045)',
            align: 'center',
            verticalAlign: 'middle',
          },
        },
        {
          type: 'group',
          x: 2956,
          y: 18,
          z: 3,
          children: [
            { type: 'rect', shape: { x: 0, y: 5, width: 32, height: 24, r: 4 }, style: { fill: '#2b2b2b' } },
            { type: 'rect', shape: { x: 10, y: 1, width: 12, height: 6, r: 2 }, style: { fill: '#2b2b2b' } },
            { type: 'circle', shape: { cx: 16, cy: 17, r: 7.5 }, style: { fill: '#fff' } },
            { type: 'circle', shape: { cx: 16, cy: 17, r: 4.5 }, style: { fill: '#2b2b2b' } },
          ],
        },
      ],
      series: [
        ...bandSeries,
        {
          name: priceName,
          type: 'line',
          xAxisIndex: 1,
          yAxisIndex: 1,
          data: price,
          symbol: 'none',
          silent: true,
          z: 4,
          itemStyle: { color: '#808080' },
          lineStyle: { color: 'rgba(0,0,0,0.5)', width: 2 },
        },
        ...arcSeries,
        {
          name: 'dots',
          type: 'scatter',
          xAxisIndex: 0,
          yAxisIndex: 0,
          data: dots,
          symbolSize: 35,
          silent: true,
          z: 6,
          itemStyle: { color: red, opacity: 1 },
        },
      ],
    }

    chart.setOption(options)
    return () => {
      chart.dispose()
    }
  }, [])

  return <div ref={cDom} style={{ width: 3042, height: 1266 }}></div>
}
